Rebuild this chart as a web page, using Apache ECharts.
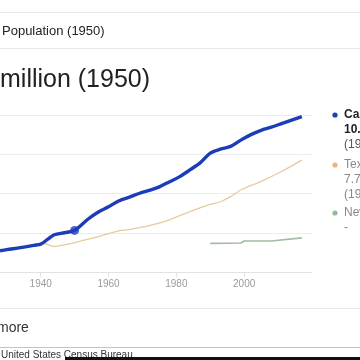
<!DOCTYPE html>
<html>
<head>
<meta charset="utf-8">
<script src="https://cdn.jsdelivr.net/npm/echarts@6/dist/echarts.min.js"></script>
<style>html,body{margin:0;padding:0;background:#fff}#c{width:360px;height:360px}</style>
</head>
<body>
<div id="c"></div>
<script>
// ---- data ----
const caYears = [1928,1930,1934,1938,1940,1942,1944,1947,1950,1954,1957,1960,1963,1966,1969,1972,1975,1978,1981,1984,1987,1990,1993,1996,1999,2002,2005,2008,2011,2014,2017];
const caValues = [5.4,5.7,6.2,6.8,7.1,8.3,9.5,10.0,10.6,13.5,15.3,16.6,18.1,19.0,20.0,20.8,21.7,23.0,24.3,26.0,27.8,30.3,31.3,32.0,33.6,35.0,36.1,36.9,37.8,38.7,39.6];
const txYears = [1940,1941,1944,1947,1951,1957,1963,1966,1972,1978,1984,1990,1993,1996,1999,2005,2011,2017];
const txValues = [7.1,7.2,6.5,6.9,7.7,9.0,10.5,10.8,11.8,13.3,15.4,17.2,17.9,19.2,20.9,23.1,25.6,28.5];
const njYears = [1990,1999,2000,2008,2017];
const njValues = [7.3,7.4,7.9,7.9,8.7];
const highlightYear = 1950;
const highlightValue = 10.6;
const xTickLabels = [1940,1960,1980,2000];
const seriesNames = ['California','Texas','New Jersey'];
const legendValues = ['10.59 million','7.71 million','-'];
const legendYears = ['(1950)','(1950)',''];
const headerText = 'Population (1950)';
const titleText = 'million (1950)';
const moreText = 'more';
const sourceText = 'United States Census Bureau';

const colors = ['#1c3cb8','#e6cba2','#a3b9a3'];
const dotColors = ['#1c3cb8','#efb27c','#8fbf8f'];

function pairs(xs, ys){ return xs.map((x,i)=>[x, ys[i]]); }

const chart = echarts.init(document.getElementById('c'), null, {renderer:'canvas'});

// legend graphic
const legendTop = [115, 165, 213];
const legendGraphics = [];
seriesNames.forEach((n,i)=>{
  const y0 = legendTop[i];
  legendGraphics.push({type:'circle', shape:{cx:335, cy:y0, r:2.6}, style:{fill:dotColors[i]}});
  const lines = [n, legendValues[i], legendYears[i]].filter(s=>s!=='');
  lines.forEach((t,j)=>{
    const first = i===0;
    legendGraphics.push({type:'text', x:344, y:y0 + j*15, style:{
      text:t, fill: first ? (j<2 ? '#222' : '#555') : '#888',
      font: (first && j<2 ? 'bold ' : '') + '12px Arial, "Liberation Sans", sans-serif',
      textVerticalAlign:'middle', textAlign:'left'}});
  });
});

const option = {
  backgroundColor:'#fff',
  animation:false,
  grid:{left:0, right:48, top:115, bottom:88, containLabel:false},
  xAxis:{
    type:'value', min:1928, max:2020,
    splitLine:{show:false},
    axisLine:{show:true, lineStyle:{color:'#e2e2e2', width:1}},
    axisTick:{show:true, customValues:xTickLabels, length:5, lineStyle:{color:'#e2e2e2'}},
    axisLabel:{customValues:xTickLabels, formatter:(v)=>String(v), color:'#9b9b9b', fontSize:10, margin:7, fontFamily:'Arial'}
  },
  yAxis:{
    type:'value', min:0, max:40, interval:10,
    axisLine:{show:false}, axisTick:{show:false}, axisLabel:{show:false},
    splitLine:{show:true, lineStyle:{color:'#ececec', width:1}}
  },
  series:[
    {name:seriesNames[2], type:'line', data:pairs(njYears,njValues), showSymbol:false, lineStyle:{color:colors[2], width:1.6}, z:2},
    {name:seriesNames[1], type:'line', data:pairs(txYears,txValues), showSymbol:false, smooth:0.3, lineStyle:{color:colors[1], width:1.3}, z:3},
    {name:seriesNames[0], type:'line', data:pairs(caYears,caValues), showSymbol:false, smooth:0.3, lineStyle:{color:colors[0], width:3.4}, z:4},
    {type:'scatter', data:[[highlightYear, highlightValue]], symbolSize:9, itemStyle:{color:colors[0]}, z:5}
  ],
  graphic:[
    {type:'line', shape:{x1:0,y1:12.5,x2:360,y2:12.5}, style:{stroke:'#e8e8e8', lineWidth:1}},
    {type:'line', shape:{x1:0,y1:48.5,x2:360,y2:48.5}, style:{stroke:'#e8e8e8', lineWidth:1}},
    {type:'text', x:2, y:31, style:{text:headerText, fill:'#222', font:'13px Arial, "Liberation Sans", sans-serif', textVerticalAlign:'middle'}},
    {type:'text', x:0, y:80, style:{text:titleText, fill:'#222', font:'25px Arial, "Liberation Sans", sans-serif', textVerticalAlign:'middle'}},
    {type:'line', shape:{x1:0,y1:308.5,x2:360,y2:308.5}, style:{stroke:'#e8e8e8', lineWidth:1}},
    {type:'text', x:-3, y:328, style:{text:moreText, fill:'#333', font:'14px Arial, "Liberation Sans", sans-serif', textVerticalAlign:'middle'}},
    {type:'line', shape:{x1:0,y1:347.5,x2:360,y2:347.5}, style:{stroke:'#c4c4c4', lineWidth:1}},
    {type:'text', x:1, y:355, style:{text:sourceText, fill:'#333', font:'10px Arial, "Liberation Sans", sans-serif', textVerticalAlign:'middle'}},
    {type:'rect', shape:{x:65,y:357,width:295,height:3}, style:{fill:'#111'}}
  ].concat(legendGraphics)
};
chart.setOption(option);
</script>
</body>
</html>
